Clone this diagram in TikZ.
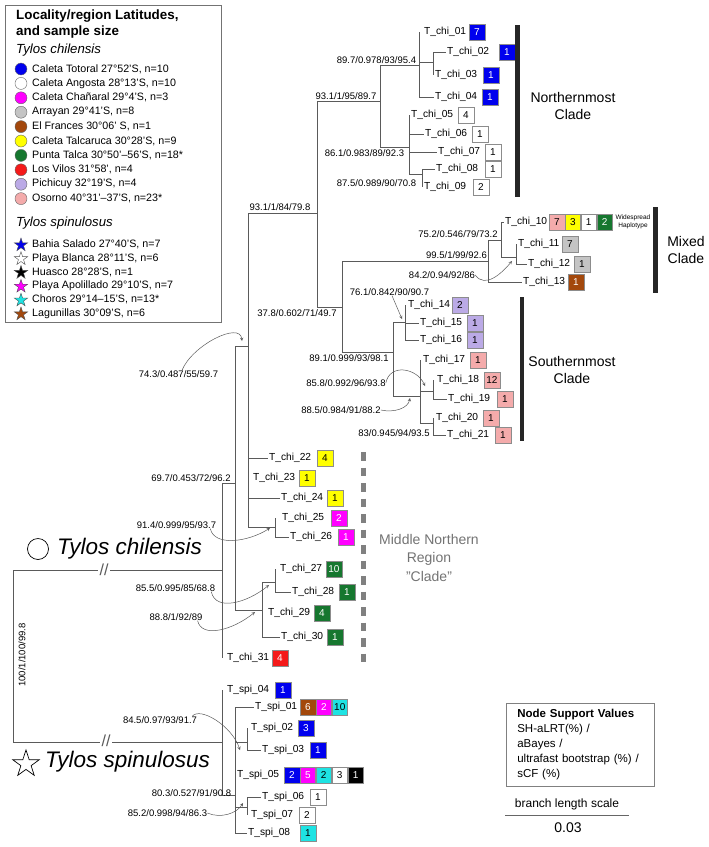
\documentclass[tikz,border=0pt]{standalone}
\usepackage{fontspec}
\setmainfont{Liberation Sans}
\usetikzlibrary{calc,positioning,shapes.geometric}
\definecolor{HapBlue}{HTML}{0000EE}
\definecolor{HapMagenta}{HTML}{FF00FF}
\definecolor{HapGray}{HTML}{C4C4C4}
\definecolor{HapBrown}{HTML}{A3480C}
\definecolor{HapYellow}{HTML}{FFFF00}
\definecolor{HapGreen}{HTML}{16772F}
\definecolor{HapRed}{HTML}{F41A1A}
\definecolor{HapLavender}{HTML}{BBAAE6}
\definecolor{HapPink}{HTML}{F4ABAB}
\definecolor{HapCyan}{HTML}{1EE3E3}
\definecolor{TreeGray}{HTML}{5A5A5A}

\begin{document}
\begin{tikzpicture}[
    x=1pt, y=-1pt,
    every node/.style={font=\fontsize{10}{12}\selectfont},
    branch/.style={draw=TreeGray,line width=0.75pt},
    leaf/.style={anchor=west,inner sep=1.5pt,font=\fontsize{10.2}{12}\selectfont},
    hap/.style={draw=black!45,fill=#1,anchor=west,minimum width=15.5pt,minimum height=15.5pt,inner sep=0pt},
    hapw/.style={hap=#1,text=white},
    support/.style={inner sep=0pt,font=\fontsize{9.5}{11}\selectfont},
    callout/.style={-stealth,draw=TreeGray,line width=0.5pt},
    cladebar/.style={fill=black!85,anchor=north west,minimum width=4.5pt,inner sep=0pt},
    cladename/.style={align=center,font=\fontsize{14}{17}\selectfont},
    brk/.style={fill=white,inner xsep=2pt,inner ysep=0pt,text=TreeGray,font=\fontsize{16}{16}\selectfont},
    legdot/.style={circle,draw=black!60,fill=#1,minimum size=12pt,inner sep=0pt},
    legstar/.style={star,star points=5,star point ratio=2.6,draw=black!70,fill=#1,minimum size=14pt,inner sep=0pt},
    legentry/.style={anchor=west,inner sep=0pt,font=\fontsize{10.7}{12}\selectfont},
    legsub/.style={anchor=west,inner sep=0pt,font=\fontsize{13.2}{15}\selectfont\itshape}
]
  \useasboundingbox (0,0) rectangle (709,847);

  \node[draw=black!55,line width=0.6pt,anchor=north west,minimum width=216pt,minimum height=317pt] (legend) at (5,5) {};
  \node[anchor=west,inner sep=0pt,font=\fontsize{13.4}{15}\selectfont\bfseries] (legtitle) at (16,16) {Locality/region Latitudes,};
  \node[anchor=west,inner sep=0pt,font=\fontsize{13.4}{15}\selectfont\bfseries] (legtitleb) at (16,32) {and sample size};
  \node[legsub] (legchi) at (16,50) {Tylos chilensis};
  \node[legdot=HapBlue] (dot01) at (21,69) {};
  \node[legentry] at (32,69) {Caleta Totoral 27°52'S, n=10};
  \node[legdot=white] (dot02) at (21,83.4) {};
  \node[legentry] at (32,83.4) {Caleta Angosta 28°13'S, n=10};
  \node[legdot=HapMagenta] (dot03) at (21,97.8) {};
  \node[legentry] at (32,97.8) {Caleta Chañaral 29°4'S, n=3};
  \node[legdot=HapGray] (dot04) at (21,112.2) {};
  \node[legentry] at (32,112.2) {Arrayan 29°41'S, n=8};
  \node[legdot=HapBrown] (dot05) at (21,126.6) {};
  \node[legentry] at (32,126.6) {El Frances 30°06' S, n=1};
  \node[legdot=HapYellow] (dot06) at (21,141) {};
  \node[legentry] at (32,141) {Caleta Talcaruca 30°28'S, n=9};
  \node[legdot=HapGreen] (dot07) at (21,155.4) {};
  \node[legentry] at (32,155.4) {Punta Talca 30°50'–56'S, n=18*};
  \node[legdot=HapRed] (dot08) at (21,169.8) {};
  \node[legentry] at (32,169.8) {Los Vilos 31°58', n=4};
  \node[legdot=HapLavender] (dot09) at (21,184.2) {};
  \node[legentry] at (32,184.2) {Pichicuy 32°19'S, n=4};
  \node[legdot=HapPink] (dot10) at (21,198.6) {};
  \node[legentry] at (32,198.6) {Osorno 40°31'–37'S, n=23*};
  \node[legsub] (legspi) at (16,223) {Tylos spinulosus};
  \node[legstar=HapBlue] (star01) at (21,245) {};
  \node[legentry] at (32,244.5) {Bahia Salado 27°40'S, n=7};
  \node[legstar=white] (star02) at (21,258.8) {};
  \node[legentry] at (32,258.3) {Playa Blanca 28°11'S, n=6};
  \node[legstar=black] (star03) at (21,272.6) {};
  \node[legentry] at (32,272.1) {Huasco 28°28'S, n=1};
  \node[legstar=HapMagenta] (star04) at (21,286.4) {};
  \node[legentry] at (32,285.9) {Playa Apolillado 29°10'S, n=7};
  \node[legstar=HapCyan] (star05) at (21,300.2) {};
  \node[legentry] at (32,299.7) {Choros 29°14–15'S, n=13*};
  \node[legstar=HapBrown] (star06) at (21,314) {};
  \node[legentry] at (32,313.5) {Lagunillas 30°09'S, n=6};

  \coordinate (nA) at (419,65);
  \coordinate (nA2) at (433,62);
  \coordinate (nB) at (380,101);
  \coordinate (nC) at (409,147);
  \coordinate (nD) at (422,174);
  \coordinate (nE) at (317,213);
  \coordinate (nG) at (342,307);
  \coordinate (nM) at (488,261);
  \coordinate (nN) at (501,240);
  \coordinate (nO) at (516,257);
  \coordinate (nH) at (393,352);
  \coordinate (nI) at (405,322);
  \coordinate (nJ) at (420,396);
  \coordinate (nK) at (433,391);
  \coordinate (nL) at (433,423);
  \coordinate (nF) at (248,346);
  \coordinate (nQ) at (275,527);
  \coordinate (nP) at (235,483);
  \coordinate (nS) at (262,610);
  \coordinate (nT) at (275,582);
  \coordinate (nR) at (222,570);
  \coordinate (nRoot) at (13,656);
  \coordinate (nU) at (222,742);
  \coordinate (nV) at (235,795);
  \coordinate (nW) at (247,742);
  \coordinate (nX) at (247,807);

  \node[leaf] (chi01) at (422.5,32) {T\_chi\_01};
  \node[leaf] (chi02) at (445.5,52) {T\_chi\_02};
  \node[leaf] (chi03) at (433.5,75) {T\_chi\_03};
  \node[leaf] (chi04) at (433.5,97) {T\_chi\_04};
  \node[leaf] (chi05) at (409.5,115) {T\_chi\_05};
  \node[leaf] (chi06) at (423.5,134) {T\_chi\_06};
  \node[leaf] (chi07) at (436.5,152) {T\_chi\_07};
  \node[leaf] (chi08) at (434.5,169) {T\_chi\_08};
  \node[leaf] (chi09) at (422.5,187) {T\_chi\_09};
  \node[leaf] (chi10) at (503.5,222) {T\_chi\_10};
  \node[leaf] (chi11) at (516.5,244) {T\_chi\_11};
  \node[leaf] (chi12) at (526.5,264) {T\_chi\_12};
  \node[leaf] (chi13) at (521.5,282) {T\_chi\_13};
  \node[leaf] (chi14) at (406.5,305) {T\_chi\_14};
  \node[leaf] (chi15) at (418.5,323) {T\_chi\_15};
  \node[leaf] (chi16) at (418.5,340) {T\_chi\_16};
  \node[leaf] (chi17) at (421.5,360) {T\_chi\_17};
  \node[leaf] (chi18) at (435.5,380) {T\_chi\_18};
  \node[leaf] (chi19) at (446.5,399) {T\_chi\_19};
  \node[leaf] (chi20) at (434.5,418) {T\_chi\_20};
  \node[leaf] (chi21) at (445.5,435) {T\_chi\_21};
  \node[leaf] (chi22) at (267.5,458) {T\_chi\_22};
  \node[leaf] (chi23) at (251.5,478) {T\_chi\_23};
  \node[leaf] (chi24) at (279.5,498) {T\_chi\_24};
  \node[leaf] (chi25) at (280.5,518) {T\_chi\_25};
  \node[leaf] (chi26) at (288.5,537) {T\_chi\_26};
  \node[leaf] (chi27) at (278.5,569) {T\_chi\_27};
  \node[leaf] (chi28) at (290.5,592) {T\_chi\_28};
  \node[leaf] (chi29) at (266.5,613) {T\_chi\_29};
  \node[leaf] (chi30) at (279.5,637) {T\_chi\_30};
  \node[leaf] (chi31) at (225.5,658) {T\_chi\_31};
  \node[leaf] (spi04) at (225.5,690) {T\_spi\_04};
  \node[leaf] (spi01) at (253.5,707) {T\_spi\_01};
  \node[leaf] (spi02) at (249.5,728) {T\_spi\_02};
  \node[leaf] (spi03) at (260.5,750) {T\_spi\_03};
  \node[leaf] (spi05) at (235.5,775) {T\_spi\_05};
  \node[leaf] (spi06) at (260.5,797) {T\_spi\_06};
  \node[leaf] (spi07) at (249.5,815) {T\_spi\_07};
  \node[leaf] (spi08) at (246.5,833) {T\_spi\_08};

  \node[hapw=HapBlue] (chi01a) at (469,32) {7};
  \node[hapw=HapBlue] (chi02a) at (499,52) {1};
  \node[hapw=HapBlue] (chi03a) at (483,75) {1};
  \node[hapw=HapBlue] (chi04a) at (482,97) {1};
  \node[hap=white] (chi05a) at (458,115) {4};
  \node[hap=white] (chi06a) at (472,134) {1};
  \node[hap=white] (chi07a) at (485,152) {1};
  \node[hap=white] (chi08a) at (485,169) {1};
  \node[hap=white] (chi09a) at (473,187) {2};
  \node[hap=HapPink] (chi10a) at (549,222) {7};
  \node[hap=HapYellow, right=0pt of chi10a] (chi10b) {3};
  \node[hap=white, right=0pt of chi10b] (chi10c) {1};
  \node[hapw=HapGreen, right=0pt of chi10c] (chi10d) {2};
  \node[hap=HapGray] (chi11a) at (562,244) {7};
  \node[hap=HapGray] (chi12a) at (574,264) {1};
  \node[hapw=HapBrown] (chi13a) at (568,282) {1};
  \node[hap=HapLavender] (chi14a) at (452,305) {2};
  \node[hap=HapLavender] (chi15a) at (467,323) {1};
  \node[hap=HapLavender] (chi16a) at (467,340) {1};
  \node[hap=HapPink] (chi17a) at (470,360) {1};
  \node[hap=HapPink] (chi18a) at (484,380) {12};
  \node[hap=HapPink] (chi19a) at (497,399) {1};
  \node[hap=HapPink] (chi20a) at (483,418) {1};
  \node[hap=HapPink] (chi21a) at (495,435) {1};
  \node[hap=HapYellow] (chi22a) at (317,458) {4};
  \node[hap=HapYellow] (chi23a) at (299,478) {1};
  \node[hap=HapYellow] (chi24a) at (327,498) {1};
  \node[hapw=HapMagenta] (chi25a) at (331,518) {2};
  \node[hapw=HapMagenta] (chi26a) at (338,537) {1};
  \node[hapw=HapGreen] (chi27a) at (326,569) {10};
  \node[hapw=HapGreen] (chi28a) at (339,592) {1};
  \node[hapw=HapGreen] (chi29a) at (314,613) {4};
  \node[hapw=HapGreen] (chi30a) at (327,637) {1};
  \node[hapw=HapRed] (chi31a) at (272,658) {4};
  \node[hapw=HapBlue] (spi04a) at (275,690) {1};
  \node[hapw=HapBrown] (spi01a) at (300,707) {6};
  \node[hapw=HapMagenta, right=0pt of spi01a] (spi01b) {2};
  \node[hap=HapCyan, right=0pt of spi01b] (spi01c) {10};
  \node[hapw=HapBlue] (spi02a) at (298,728) {3};
  \node[hapw=HapBlue] (spi03a) at (310,750) {1};
  \node[hapw=HapBlue] (spi05a) at (284,775) {2};
  \node[hapw=HapMagenta, right=0pt of spi05a] (spi05b) {5};
  \node[hap=HapCyan, right=0pt of spi05b] (spi05c) {2};
  \node[hap=white, right=0pt of spi05c] (spi05d) {3};
  \node[hapw=black, right=0pt of spi05d] (spi05e) {1};
  \node[hap=white] (spi06a) at (310,797) {1};
  \node[hap=white] (spi07a) at (299,815) {2};
  \node[hap=HapCyan] (spi08a) at (300,833) {1};
  \node[align=center,inner sep=0pt,font=\fontsize{6.5}{8.5}\selectfont] (widenote) at (633,222) {Widespread\\Haplotype};

  \draw[branch] (nA) -- (nA |- chi01);
  \draw[branch] (nA) |- (nA2);
  \draw[branch] (nA) |- (chi04.west);
  \draw[branch] (nA2) |- (chi02.west);
  \draw[branch] (nA2) -- (nA2 |- chi03);
  \draw[branch] (nB) |- (nA);
  \draw[branch] (nB) |- (nC);
  \draw[branch] (nC) -- (nC |- chi05);
  \draw[branch] (nC) |- (chi06.west);
  \draw[branch] (nC) |- (chi07.west);
  \draw[branch] (nC) |- (nD);
  \draw[branch] (nD) |- (chi08.west);
  \draw[branch] (nD) -- (nD |- chi09);
  \draw[branch] (nE) |- (nB);
  \draw[branch] (nE) |- (nG);
  \draw[branch] (nG) |- (nM);
  \draw[branch] (nG) |- (nH);
  \draw[branch] (nM) |- (nN);
  \draw[branch] (nM) |- (chi13.west);
  \draw[branch] (nN) |- (chi10.west);
  \draw[branch] (nN) |- (nO);
  \draw[branch] (nO) -- (nO |- chi11);
  \draw[branch] (nO) |- (chi12.west);
  \draw[branch] (nH) |- (nI);
  \draw[branch] (nH) |- (nJ);
  \draw[branch] (nI) -- (nI |- chi14);
  \draw[branch] (nI) |- (chi15.west);
  \draw[branch] (nI) |- (chi16.west);
  \draw[branch] (nJ) -- (nJ |- chi17);
  \draw[branch] (nJ) |- (nK);
  \draw[branch] (nJ) |- (nL);
  \draw[branch] (nK) -- (nK |- chi18);
  \draw[branch] (nK) |- (chi19.west);
  \draw[branch] (nL) -- (nL |- chi20);
  \draw[branch] (nL) |- (chi21.west);
  \draw[branch] (nF) |- (nE);
  \draw[branch] (nF) |- (chi22.west);
  \draw[branch] (nF) |- (chi24.west);
  \draw[branch] (nF) |- (nQ);
  \draw[branch] (nQ) -- (nQ |- chi25);
  \draw[branch] (nQ) |- (chi26.west);
  \draw[branch] (nP) |- (nF);
  \draw[branch] (nP) |- (nS);
  \draw[branch] (nS) |- (nT);
  \draw[branch] (nS) |- (chi30.west);
  \draw[branch] (nT) -- (nT |- chi27);
  \draw[branch] (nT) |- (chi28.west);
  \draw[branch] (nR) |- (nP);
  \draw[branch] (nR) -- (nR |- chi31);
  \draw[branch] (nRoot) |- (nR);
  \draw[branch] (nRoot) |- (nU);
  \draw[branch] (nU) -- (nU |- spi04);
  \draw[branch] (nU) |- (nV);
  \draw[branch] (nV) |- (spi01.west);
  \draw[branch] (nV) |- (nW);
  \draw[branch] (nV) |- (nX);
  \draw[branch] (nV) |- (spi08.west);
  \draw[branch] (nW) -- (nW |- spi02);
  \draw[branch] (nW) |- (spi03.west);
  \draw[branch] (nX) |- (spi06.west);
  \draw[branch] (nX) -- (nX |- spi07);

  \node[brk] (brkR) at (104,570) {//};
  \node[brk] (brkU) at (106,741) {//};

  \node[support] (supA) at (376.5,60) {89.7/0.978/93/95.4};
  \node[support] (supB) at (346,96) {93.1/1/95/89.7};
  \node[support] (supC) at (364.5,153) {86.1/0.983/89/92.3};
  \node[support] (supD) at (376.5,183) {87.5/0.989/90/70.8};
  \node[support] (supE) at (280,207) {93.1/1/84/79.8};
  \node[support] (supG) at (297,313) {37.8/0.602/71/49.7};
  \node[support] (supM) at (456.5,255) {99.5/1/99/92.6};
  \node[support] (supN) at (458,234) {75.2/0.546/79/73.2};
  \node[support] (supO) at (442,275) {84.2/0.94/92/86};
  \node[support] (supI) at (389.5,292) {76.1/0.842/90/90.7};
  \node[support] (supH) at (349,358) {89.1/0.999/93/98.1};
  \node[support] (supK) at (346,383) {85.8/0.992/96/93.8};
  \node[support] (supJ) at (341,410) {88.5/0.984/91/88.2};
  \node[support] (supL) at (394,433) {83/0.945/94/93.5};
  \node[support] (supF) at (178.5,374) {74.3/0.487/55/59.7};
  \node[support] (supP) at (191,478) {69.7/0.453/72/96.2};
  \node[support] (supQ) at (176.5,525) {91.4/0.999/95/93.7};
  \node[support] (supT) at (175.5,588) {85.5/0.995/85/68.8};
  \node[support] (supS) at (176,617) {88.8/1/92/89};
  \node[support,rotate=90] (supRoot) at (22,655) {100/1/100/99.8};
  \node[support] (supW) at (160,720) {84.5/0.97/93/91.7};
  \node[support] (supV) at (191.5,793) {80.3/0.527/91/90.8};
  \node[support] (supX) at (167.5,813) {85.2/0.998/94/86.3};

  \coordinate (tipO) at (512,261);
  \coordinate (tipI) at (402,319);
  \coordinate (tipK) at (425,386);
  \coordinate (tipJ) at (410,398);
  \coordinate (tipF) at (242,341);
  \coordinate (tipQ) at (270,528);
  \coordinate (tipT) at (269,585);
  \coordinate (tipS) at (255,612);
  \coordinate (tipW) at (240,750);
  \coordinate (tipX) at (243,803);
  \draw[callout] (supO.east) .. controls +(10,14) and +(-10,12) .. (tipO);
  \draw[callout] ([xshift=2.5pt]supI.south) -- (tipI);
  \draw[callout] (supK.east) .. controls +(4,-20) and +(-8,-18) .. (tipK);
  \draw[callout] (supJ.east) .. controls +(14,3) and +(-2,10) .. (tipJ);
  \draw[callout] ([xshift=3.5pt]supF.north) .. controls +(10,-25) and +(-2,-20) .. (tipF);
  \draw[callout] ([xshift=-6pt]supQ.south east) .. controls +(4,18) and +(-22,14) .. (tipQ);
  \draw[callout] ([xshift=-4pt]supT.south east) .. controls +(4,20) and +(-22,18) .. (tipT);
  \draw[callout] ([xshift=-5pt]supS.south east) .. controls +(4,18) and +(-22,18) .. (tipS);
  \draw[callout] ([xshift=-5pt]supW.north east) .. controls +(8,-10) and +(-8,-24) .. (tipW);
  \draw[callout] (supX.east) .. controls +(14,6) and +(-6,10) .. (tipX);

  \node[cladebar,minimum height=172pt] (northbar) at (515,25) {};
  \node[cladebar,minimum height=86pt] (mixedbar) at (653,207) {};
  \node[cladebar,minimum height=144pt] (southbar) at (519.5,297) {};
  \coordinate (midtop) at (363.5,452);
  \coordinate (midbot) at (363.5,664);
  \draw[draw=black!50,line width=5pt,dash pattern=on 8.5pt off 7pt] (midtop) -- (midbot);
  \node[cladename] (northname) at (573,105.5) {Northernmost\\Clade};
  \node[cladename] (mixedname) at (686,250) {Mixed\\Clade};
  \node[cladename] (southname) at (572,369.5) {Southernmost\\Clade};
  \node[cladename,text=black!55,font=\fontsize{14}{18.5}\selectfont] (midname) at (429,557.5) {Middle Northern\\Region\\"Clade"};

  \node[circle,draw,line width=0.7pt,minimum size=21pt,inner sep=0pt] (chisym) at (38,549) {};
  \node[anchor=west,inner sep=0pt,font=\fontsize{22.5}{26}\selectfont\itshape] (chiname) at (57,549) {Tylos chilensis};
  \node[star,star points=5,star point ratio=2.6,draw,line width=0.7pt,minimum size=28pt,inner sep=0pt] (spisym) at (26,764) {};
  \node[anchor=west,inner sep=0pt,font=\fontsize{22.5}{26}\selectfont\itshape] (spiname) at (45,762) {Tylos spinulosus};

  \node[draw=black!50,line width=0.6pt,anchor=north west,align=left,text width=126pt,inner xsep=11pt,inner ysep=3.5pt,minimum height=83pt,font=\fontsize{11.5}{15}\selectfont] (supportkey) at (506,703) {\textbf{Node Support Values}\\SH-aLRT(\%) /\\aBayes /\\ultrafast bootstrap (\%) /\\sCF (\%)};
  \node[font=\fontsize{12}{14}\selectfont] (scalecap) at (567,804) {branch length scale};
  \coordinate (scaleL) at (505,815);
  \coordinate (scaleR) at (629,815);
  \draw[draw=black!60,line width=0.6pt] (scaleL) -- (scaleR);
  \node[font=\fontsize{14}{16}\selectfont] (scaleval) at (568,828) {0.03};
\end{tikzpicture}
\end{document}
